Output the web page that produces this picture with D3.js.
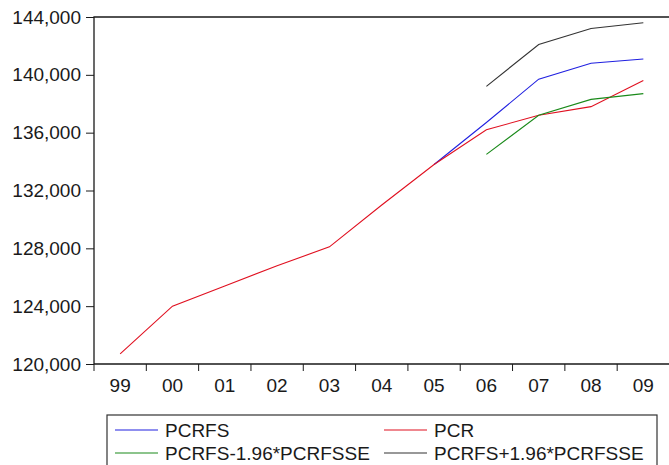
<!DOCTYPE html>
<html>
<head>
<meta charset="utf-8">
<script src="https://cdn.jsdelivr.net/npm/d3@7"></script>
<style>
  body { margin: 0; background: #fff; }
  svg { display: block; font-family: "Liberation Sans", Arial, sans-serif; }
</style>
</head>
<body>
<svg id="chart" width="669" height="465"></svg>
<script>
// data
const years = ['99', '00', '01', '02', '03', '04', '05', '06', '07', '08', '09'];
const pcr = [120700, 124000, 125400, 126800, 128100, 131000, 133800, 136200, 137200, 137800, 139600];
const pcrfs = [null, null, null, null, null, null, 133800, 136700, 139700, 140800, 141100];
const pcrfsLow = [null, null, null, null, null, null, null, 134500, 137200, 138300, 138700];
const pcrfsHigh = [null, null, null, null, null, null, null, 139200, 142100, 143200, 143600];
const yTicks = [120000, 124000, 128000, 132000, 136000, 140000, 144000];

const series = [
  { name: 'PCRFS', values: pcrfs, color: '#2020e0' },
  { name: 'PCR', values: pcr, color: '#e01020' },
  { name: 'PCRFS-1.96*PCRFSSE', values: pcrfsLow, color: '#1a8a1a' },
  { name: 'PCRFS+1.96*PCRFSSE', values: pcrfsHigh, color: '#333333' },
];

const svg = d3.select('#chart');
const plotL = 94, plotR = 669.5, plotT = 17, plotB = 364;

const x = d3.scaleBand().domain(years).range([plotL, plotR]).padding(0);
const y = d3.scaleLinear().domain([120000, 144000]).range([plotB, plotT]);

// frame (top, left, bottom; right side runs off the picture)
svg.append('path')
  .attr('d', `M${plotR + 5},${plotT}H${plotL}V${plotB}H${plotR + 5}`)
  .attr('fill', 'none').attr('stroke', '#1a1a1a').attr('stroke-width', 1.3);

// y axis
const yAxis = svg.append('g')
  .attr('transform', `translate(${plotL},0)`)
  .call(d3.axisLeft(y).tickValues(yTicks).tickFormat(d3.format(',')).tickSize(8).tickPadding(5));
yAxis.select('.domain').remove();
yAxis.selectAll('line').attr('stroke', '#1a1a1a');
yAxis.selectAll('text').attr('font-size', 19).attr('fill', '#1a1a1a')
  .attr('font-family', '"Liberation Sans", Arial, sans-serif');

// x axis: ticks on category boundaries, labels centred
const xb = years.map(d => x(d)).concat([x(years[years.length - 1]) + x.bandwidth()]);
svg.append('g').selectAll('line')
  .data(xb)
  .enter()
  .append('line')
  .attr('x1', d => d).attr('x2', d => d)
  .attr('y1', plotB).attr('y2', plotB + 7)
  .attr('stroke', '#1a1a1a');
svg.append('g').selectAll('text')
  .data(years)
  .enter()
  .append('text')
  .attr('x', d => x(d) + x.bandwidth() / 2)
  .attr('y', plotB + 28)
  .attr('text-anchor', 'middle')
  .attr('font-size', 19)
  .attr('fill', '#1a1a1a')
  .text(d => d);

// lines
const line = d3.line()
  .defined(d => d.v !== null)
  .x(d => x(d.year) + x.bandwidth() / 2)
  .y(d => y(d.v));

series.forEach((s) => {
  const pts = years.map((yr, i) => ({ year: yr, v: s.values[i] }));
  svg.append('path')
    .attr('d', line(pts))
    .attr('fill', 'none')
    .attr('stroke', s.color)
    .attr('stroke-width', 1.1);
});

// legend
const lg = svg.append('g');
lg.append('rect')
  .attr('x', 107).attr('y', 415)
  .attr('width', 550).attr('height', 60)
  .attr('fill', 'none').attr('stroke', '#333').attr('stroke-width', 1.2);

const cols = [115, 384];
const rows = [430, 453];
series.forEach((s, i) => {
  const cx = cols[i % 2];
  const cy = rows[Math.floor(i / 2)];
  lg.append('line')
    .attr('x1', cx).attr('x2', cx + 43)
    .attr('y1', cy).attr('y2', cy)
    .attr('stroke', s.color).attr('stroke-width', 1.1);
  lg.append('text')
    .attr('x', cx + 50).attr('y', cy + 7)
    .attr('font-size', 19)
    .attr('fill', '#1a1a1a')
    .text(s.name);
});
</script>
</body>
</html>
